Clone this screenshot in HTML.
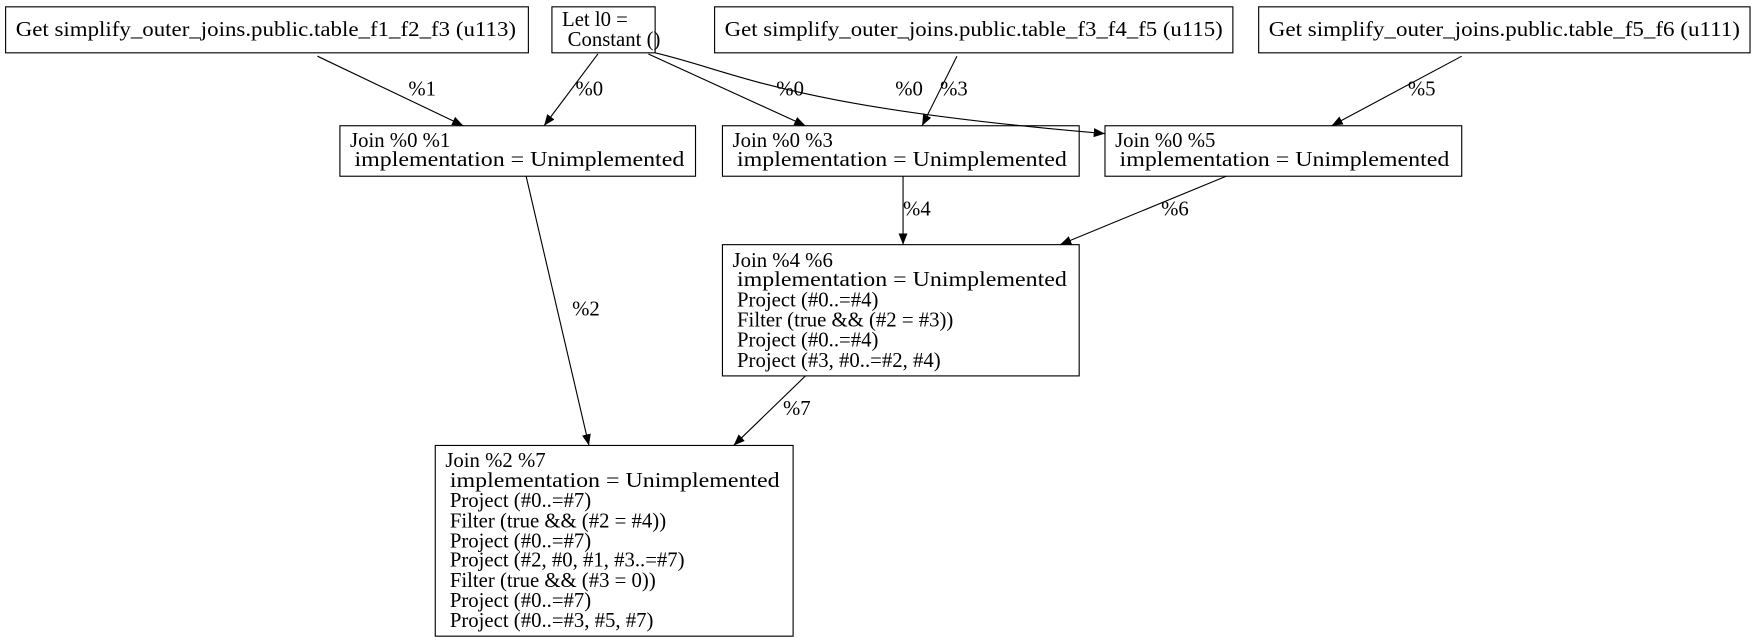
<!DOCTYPE html>
<html><head><meta charset="utf-8"><style>
html,body{margin:0;padding:0;background:#fff;}
svg{display:block;}
text{font-family:"Liberation Serif",serif;font-size:18.5px;fill:#000;}
</style></head><body>
<svg width="1759" height="643" viewBox="0 0 1568 573" xmlns="http://www.w3.org/2000/svg">
<defs><marker id="a" markerWidth="10" markerHeight="8" refX="10" refY="4" orient="auto" markerUnits="userSpaceOnUse"><path d="M0,0 L10,4 L0,8 z" fill="#000"/></marker></defs>
<g fill="none" stroke="#000" stroke-width="1">
<rect x="5" y="6" width="466" height="41"/>
<rect x="492" y="6" width="92" height="41"/>
<rect x="637" y="6" width="462" height="41"/>
<rect x="1122" y="6" width="438" height="41"/>
<rect x="303" y="112" width="317" height="45"/>
<rect x="644" y="112" width="318" height="45"/>
<rect x="985" y="112" width="318" height="45"/>
<rect x="644" y="218" width="318" height="117"/>
<rect x="388" y="397" width="319" height="170"/>
<g marker-end="url(#a)">
<path d="M283,50 L413,112"/>
<path d="M533,48 L485,112"/>
<path d="M578,48 L718,112"/>
<path d="M584,47 C660,65 700,95 985,119"/>
<path d="M853,50 L822,112"/>
<path d="M1303,50 L1187,112"/>
<path d="M805,157 L805,218"/>
<path d="M1093,157 L945,218"/>
<path d="M469,157 L525,397"/>
<path d="M718,335 L654,397"/>
</g></g>
<text x="14" y="32" textLength="446" lengthAdjust="spacingAndGlyphs">Get simplify_outer_joins.public.table_f1_f2_f3 (u113)</text>
<text x="501" y="23">Let l0 =</text>
<text x="506" y="41">Constant ()</text>
<text x="646" y="32" textLength="444" lengthAdjust="spacingAndGlyphs">Get simplify_outer_joins.public.table_f3_f4_f5 (u115)</text>
<text x="1131" y="32" textLength="420" lengthAdjust="spacingAndGlyphs">Get simplify_outer_joins.public.table_f5_f6 (u111)</text>
<text x="312" y="131">Join %0 %1</text><text x="316" y="148" textLength="294" lengthAdjust="spacingAndGlyphs">implementation = Unimplemented</text>
<text x="653" y="131">Join %0 %3</text><text x="657" y="148" textLength="294" lengthAdjust="spacingAndGlyphs">implementation = Unimplemented</text>
<text x="994" y="131">Join %0 %5</text><text x="998" y="148" textLength="294" lengthAdjust="spacingAndGlyphs">implementation = Unimplemented</text>
<text x="653" y="238">Join %4 %6</text>
<text x="657" y="255" textLength="294" lengthAdjust="spacingAndGlyphs">implementation = Unimplemented</text>
<text x="657" y="273">Project (#0..=#4)</text>
<text x="657" y="291">Filter (true &amp;&amp; (#2 = #3))</text>
<text x="657" y="309">Project (#0..=#4)</text>
<text x="657" y="327">Project (#3, #0..=#2, #4)</text>
<text x="397" y="416">Join %2 %7</text>
<text x="401" y="434" textLength="294" lengthAdjust="spacingAndGlyphs">implementation = Unimplemented</text>
<text x="401" y="452">Project (#0..=#7)</text>
<text x="401" y="470">Filter (true &amp;&amp; (#2 = #4))</text>
<text x="401" y="488">Project (#0..=#7)</text>
<text x="401" y="505">Project (#2, #0, #1, #3..=#7)</text>
<text x="401" y="523">Filter (true &amp;&amp; (#3 = 0))</text>
<text x="401" y="541">Project (#0..=#7)</text>
<text x="401" y="559">Project (#0..=#3, #5, #7)</text>
<text x="364" y="85">%1</text>
<text x="513" y="85">%0</text>
<text x="692" y="85">%0</text>
<text x="798" y="85">%0</text>
<text x="838" y="85">%3</text>
<text x="1255" y="85">%5</text>
<text x="805" y="192">%4</text>
<text x="1035" y="192">%6</text>
<text x="510" y="281">%2</text>
<text x="698" y="370">%7</text>
</svg>
</body></html>
